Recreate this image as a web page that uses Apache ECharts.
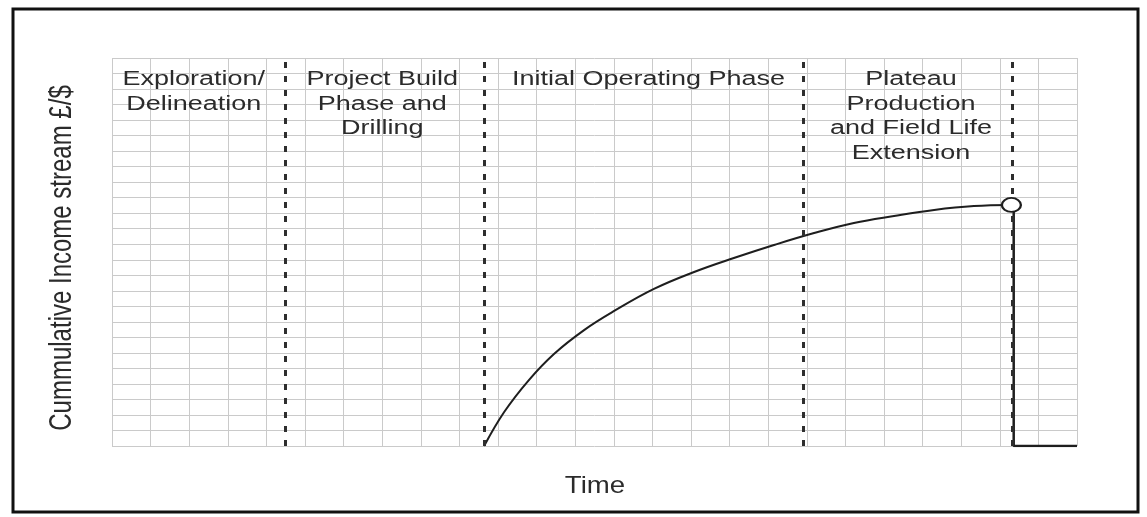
<!DOCTYPE html>
<html>
<head>
<meta charset="utf-8">
<script src="https://cdn.jsdelivr.net/npm/echarts@6/dist/echarts.min.js"></script>
<style>html,body{margin:0;padding:0;background:#fff;}#c{width:1147px;height:517px;}</style>
</head>
<body>
<div id="c"></div>
<script>
// axis ranges (grid cells)
const xRange = [0, 25];
const yRange = [0, 25];
// cumulative income curve (time units, income units)
const curveX = [9.64, 10.16, 10.80, 11.45, 12.23, 13.01, 14.04, 15.08, 16.11, 17.15, 18.19, 19.22, 20.26, 21.30, 22.33, 23.29];
const curveY = [0, 2.19, 4.25, 5.93, 7.47, 8.70, 10.12, 11.21, 12.11, 12.95, 13.72, 14.37, 14.82, 15.21, 15.46, 15.53];
// end-of-life marker
const endPoint = [23.30, 15.53];
// abandonment drop line
const dropX = [23.36, 23.36, 25];
const dropY = [15.1, 0, 0];
// phase boundaries
const dividerX = [4.48, 9.64, 17.9, 23.32];
// phase labels
const phaseLabels = ['Exploration/\nDelineation', 'Project Build\nPhase and\nDrilling', 'Initial Operating Phase', 'Plateau\nProduction\nand Field Life\nExtension'];
const phaseLabelX = [2.12, 7.0, 13.9, 20.7];
const phaseLabelY = [24.4, 24.4, 24.4, 24.4];
const xTitle = 'Time';
const yTitle = 'Cummulative Income stream £/$';

const chart = echarts.init(document.getElementById('c'));
const zip = (a, b) => a.map((v, i) => [v, b[i]]);
const fam = '"Liberation Sans", Arial, sans-serif';

chart.setOption({
  animation: false,
  backgroundColor: '#fff',
  grid: {left: 112, right: 70, top: 58, bottom: 71},
  xAxis: {
    type: 'value', min: xRange[0], max: xRange[1], interval: 1,
    axisLine: {show: false}, axisTick: {show: false}, axisLabel: {show: false},
    splitLine: {show: true, lineStyle: {color: '#cacaca', width: 1}}
  },
  yAxis: {
    type: 'value', min: yRange[0], max: yRange[1], interval: 1,
    axisLine: {show: false}, axisTick: {show: false}, axisLabel: {show: false},
    splitLine: {show: true, lineStyle: {color: '#cacaca', width: 1}}
  },
  graphic: [
    {type: 'rect', shape: {x: 13, y: 9, width: 1125, height: 503},
     style: {fill: 'none', stroke: '#111', lineWidth: 3}, silent: true},
    {type: 'text', x: 595, y: 486, scaleX: 1.15, silent: true,
     style: {text: xTitle, fontSize: 24, fontFamily: fam, fill: '#2b2b2b', align: 'center', verticalAlign: 'middle'}},
    {type: 'text', x: 62, y: 258, rotation: Math.PI / 2, scaleY: 1.3, silent: true,
     style: {text: yTitle, fontSize: 24, fontFamily: fam, fill: '#2b2b2b', align: 'center', verticalAlign: 'middle'}}
  ],
  series: [
    {
      type: 'line', data: [], silent: true, z: 2,
      markLine: {
        silent: true, symbol: 'none', label: {show: false},
        lineStyle: {color: '#2e2e2e', width: 3, type: [6, 8]},
        data: dividerX.map(x => ({xAxis: x}))
      }
    },
    {
      type: 'line', data: zip(curveX, curveY), smooth: 0.4,
      symbol: 'none', lineStyle: {color: '#1e1e1e', width: 2}, silent: true, z: 3
    },
    {
      type: 'line', data: zip(dropX, dropY), symbol: 'none',
      lineStyle: {color: '#1e1e1e', width: 2.5}, silent: true, z: 3
    },
    {
      type: 'scatter', data: [endPoint], symbol: 'circle', symbolSize: [19, 14],
      itemStyle: {color: '#ffffff', borderColor: '#1e1e1e', borderWidth: 2, opacity: 1}, silent: true, z: 6
    },
    {
      type: 'custom', clip: false, silent: true, z: 4,
      data: zip(phaseLabelX, phaseLabelY),
      renderItem: function (params, api) {
        const p = api.coord([api.value(0), api.value(1)]);
        return {
          type: 'text', x: p[0], y: p[1], scaleX: 1.35,
          style: {
            text: phaseLabels[params.dataIndex], fontSize: 20, fontFamily: fam,
            fill: '#2b2b2b', align: 'center', verticalAlign: 'top', lineHeight: 24.5
          }
        };
      }
    }
  ]
});
</script>
</body>
</html>
